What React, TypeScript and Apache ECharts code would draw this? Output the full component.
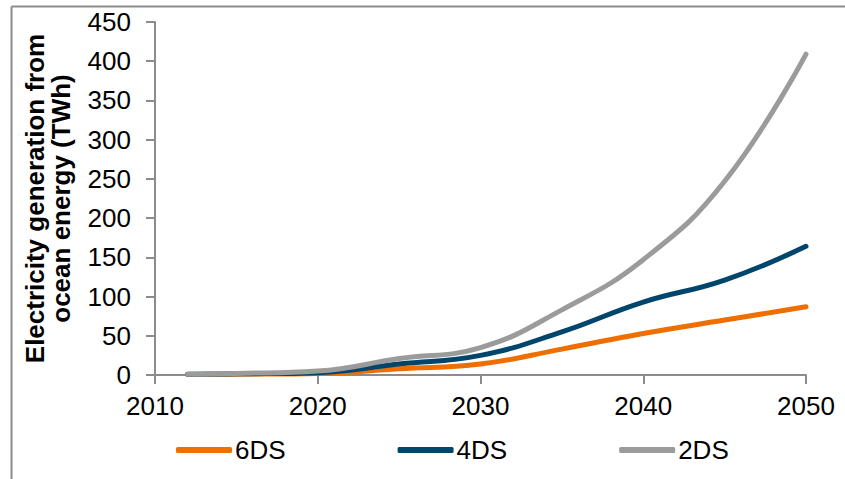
import React, { useEffect, useRef } from "react";
import * as echarts from "echarts";

const years = [2012, 2015, 2020, 2025, 2030, 2035, 2040, 2045, 2050];
const s6DS = [0.5, 1, 2, 8, 14, 33, 53, 70, 87];
const s4DS = [1, 1.5, 3, 14, 25, 55, 93, 121, 164];
const s2DS = [1, 2, 5, 21, 35, 83, 147, 247, 409];
const xTicks = [2010, 2020, 2030, 2040, 2050];

const FONT = "'Liberation Sans', Arial, sans-serif";

export default function App() {
  const ref = useRef<HTMLDivElement>(null);
  useEffect(() => {
    if (!ref.current) return;
    const chart = echarts.init(ref.current, undefined, { renderer: "svg" });
    const mk = (vals: number[]) => years.map((y, i) => [y, vals[i]]);
    const lineStyle = (c: string) => ({ color: c, width: 5, cap: "round" as const, join: "round" as const });
    chart.setOption({
      animation: false,
      graphic: [
        { type: "line", shape: { x1: 11.5, y1: 6.5, x2: 845, y2: 6.5 }, style: { stroke: "#8c8c8c", lineWidth: 2 } },
        { type: "line", shape: { x1: 11.5, y1: 6.5, x2: 11.5, y2: 479 }, style: { stroke: "#8c8c8c", lineWidth: 2 } },
      ],
      grid: { left: 155, right: 39, top: 22, bottom: 104 },
      legend: {
        left: 171,
        top: 432,
        itemWidth: 56,
        itemHeight: 6,
        itemGap: 112,
        icon: "roundRect",
        textStyle: { fontFamily: FONT, fontSize: 26, color: "#000", padding: [0, 0, 0, -2] },
        data: ["6DS", "4DS", "2DS"],
      },
      xAxis: {
        type: "value",
        min: 2010,
        max: 2050,
        interval: 10,
        axisLine: { show: true, lineStyle: { color: "#8c8c8c", width: 2 } },
        axisTick: { show: true, length: 9, lineStyle: { color: "#8c8c8c", width: 2 } },
        splitLine: { show: false },
        axisLabel: { fontFamily: FONT, fontSize: 26, color: "#000", margin: 18, formatter: (v: number) => (xTicks.includes(v) ? String(v) : "") },
      },
      yAxis: {
        type: "value",
        min: 0,
        max: 450,
        interval: 50,
        name: "Electricity generation from\nocean energy (TWh)",
        nameLocation: "middle",
        nameGap: 81,
        nameRotate: 90,
        nameTextStyle: { fontFamily: FONT, fontSize: 26, fontWeight: "bold", color: "#000", lineHeight: 26 },
        axisLine: { show: true, lineStyle: { color: "#8c8c8c", width: 2 } },
        axisTick: { show: true, length: 9, lineStyle: { color: "#8c8c8c", width: 2 } },
        splitLine: { show: false },
        axisLabel: { fontFamily: FONT, fontSize: 26, color: "#000", margin: 24 },
      },
      series: [
        { name: "6DS", type: "line", data: mk(s6DS), smooth: 0.45, showSymbol: false, lineStyle: lineStyle("#ee6f00"), itemStyle: { color: "#ee6f00" }, z: 3 },
        { name: "4DS", type: "line", data: mk(s4DS), smooth: 0.45, showSymbol: false, lineStyle: lineStyle("#00466c"), itemStyle: { color: "#00466c" }, z: 4 },
        { name: "2DS", type: "line", data: mk(s2DS), smooth: 0.45, showSymbol: false, lineStyle: lineStyle("#9b9b9b"), itemStyle: { color: "#9b9b9b" }, z: 5 },
      ],
    });
    return () => chart.dispose();
  }, []);
  return <div ref={ref} style={{ position: "fixed", left: 0, top: 0, width: 845, height: 479, background: "#fff" }} />;
}
